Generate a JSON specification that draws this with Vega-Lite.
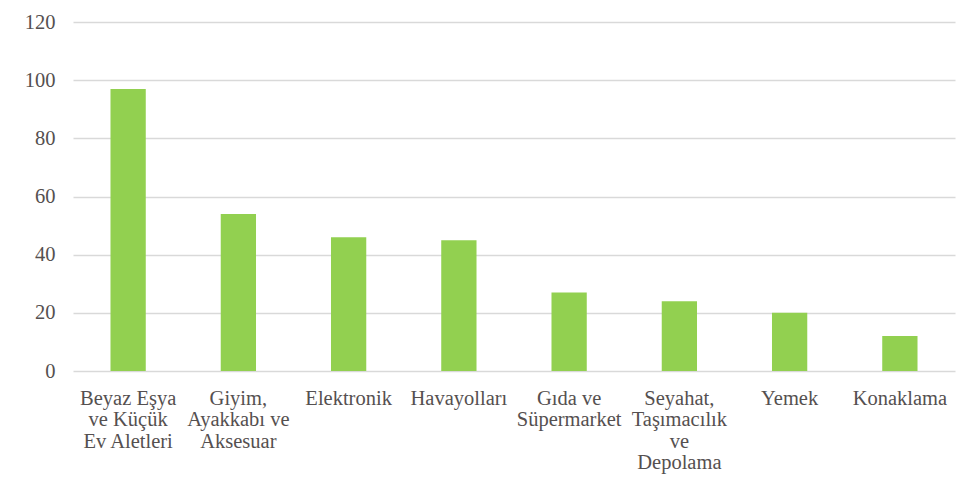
{
  "$schema": "https://vega.github.io/schema/vega-lite/v6.json",
  "width": 882,
  "height": 349,
  "autosize": {"type": "none"},
  "padding": {"left": 73, "top": 22, "right": 24, "bottom": 120},
  "background": "white",
  "config": {
    "view": {"stroke": null},
    "font": "Liberation Serif"
  },
  "data": {
    "values": [
      {"kategori": "Beyaz Eşya|ve Küçük|Ev Aletleri", "deger": 97},
      {"kategori": "Giyim,|Ayakkabı ve|Aksesuar", "deger": 54},
      {"kategori": "Elektronik", "deger": 46},
      {"kategori": "Havayolları", "deger": 45},
      {"kategori": "Gıda ve|Süpermarket", "deger": 27},
      {"kategori": "Seyahat,|Taşımacılık|ve|Depolama", "deger": 24},
      {"kategori": "Yemek", "deger": 20},
      {"kategori": "Konaklama", "deger": 12}
    ]
  },
  "mark": {"type": "bar", "color": "#92D050"},
  "encoding": {
    "x": {
      "field": "kategori",
      "type": "nominal",
      "sort": null,
      "scale": {"paddingInner": 0.68, "paddingOuter": 0.34},
      "axis": {
        "title": null,
        "labelAngle": 0,
        "labelExpr": "split(datum.label, '|')",
        "labelFont": "Liberation Serif",
        "labelFontSize": 20.5,
        "labelColor": "#555050",
        "labelLineHeight": 21.5,
        "labelPadding": 17,
        "labelBaseline": "top",
        "ticks": false,
        "domain": false,
        "labelLimit": 200
      }
    },
    "y": {
      "field": "deger",
      "type": "quantitative",
      "scale": {"domain": [0, 120], "nice": false},
      "axis": {
        "title": null,
        "values": [0, 20, 40, 60, 80, 100, 120],
        "labelFont": "Liberation Serif",
        "labelFontSize": 20.5,
        "labelColor": "#555050",
        "labelPadding": 18,
        "ticks": false,
        "domain": false,
        "grid": true,
        "gridColor": "#D9D9D9",
        "gridWidth": 1.5
      }
    }
  }
}
